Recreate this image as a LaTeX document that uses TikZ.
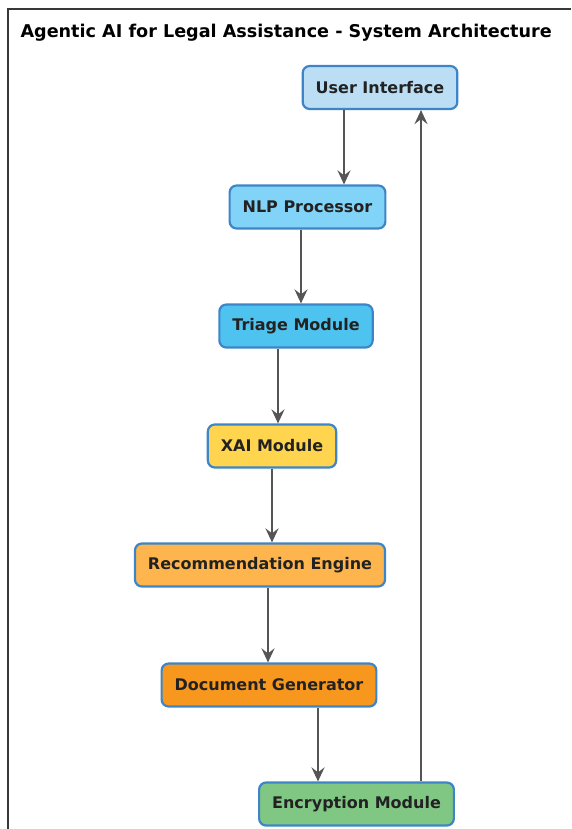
\documentclass[tikz,border=0pt]{standalone}
\usepackage{fontspec}
\setmainfont{DejaVu Sans}
\usetikzlibrary{arrows.meta}
\definecolor{edgeblue}{HTML}{3D85C6}
\definecolor{uiblue}{HTML}{BBDEF5}
\definecolor{nlpblue}{HTML}{81D4F7}
\definecolor{triblue}{HTML}{4FC3EF}
\definecolor{xaiyel}{HTML}{FFD54F}
\definecolor{recorange}{HTML}{FFB54D}
\definecolor{docorange}{HTML}{F7971E}
\definecolor{encgreen}{HTML}{81C784}
\definecolor{flowgray}{HTML}{555555}
\definecolor{textdark}{HTML}{222222}

\begin{document}
\begin{tikzpicture}[x=1pt,y=-1pt,
    module/.style={draw=edgeblue,line width=2.2pt,rounded corners=7pt,
        minimum height=43pt,inner xsep=13pt,text=textdark,
        font=\fontsize{16}{18}\selectfont\bfseries},
    flow/.style={draw=flowgray,line width=2.6pt,
        -{Stealth[length=14pt,width=13pt,inset=5pt]}}]
					\useasboundingbox (0,0) rectangle (571,829);
					\draw[draw=textdark!90,line width=1.8pt] (8,829) -- (8,9) -- (571,9);
					\node[anchor=west,text=black,font=\fontsize{17.6}{20}\selectfont\bfseries] (title) at (17,33) {Agentic AI for Legal Assistance - System Architecture};
					\node[module,fill=uiblue] (ui) at (380,87.5) {User Interface};
					\node[module,fill=nlpblue] (nlp) at (307.5,207) {NLP Processor};
					\node[module,fill=triblue] (triage) at (296,326) {Triage Module};
					\node[module,fill=xaiyel] (xai) at (272,446) {XAI Module};
					\node[module,fill=recorange] (rec) at (260,565) {Recommendation Engine};
					\node[module,fill=docorange] (doc) at (269,685) {Document Generator};
					\node[module,fill=encgreen] (enc) at (356.5,804) {Encryption Module};
					\draw[flow] (ui.south -| 344,0) -- (nlp.north -| 344,0);
					\draw[flow] (nlp.south -| 301,0) -- (triage.north -| 301,0);
					\draw[flow] (triage.south -| 278,0) -- (xai.north -| 278,0);
					\draw[flow] (xai.south -| 272,0) -- (rec.north -| 272,0);
					\draw[flow] (rec.south -| 268,0) -- (doc.north -| 268,0);
					\draw[flow] (doc.south -| 318,0) -- (enc.north -| 318,0);
					\draw[flow] (enc.north -| 421,0) -- (ui.south -| 421,0);
				\end{tikzpicture}
\end{document}
